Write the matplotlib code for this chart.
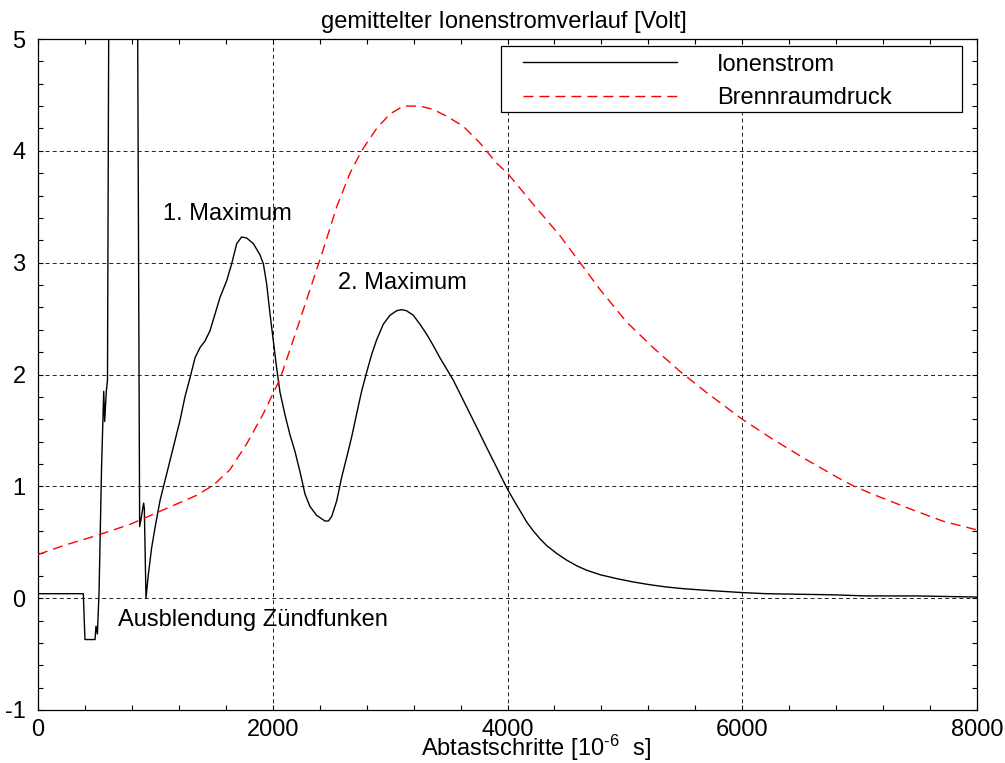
import matplotlib
matplotlib.use("Agg")
import matplotlib.pyplot as plt
from matplotlib.ticker import MultipleLocator
from matplotlib.patches import Rectangle

plt.rcParams['font.family'] = ['Liberation Sans', 'DejaVu Sans']
plt.rcParams['axes.unicode_minus'] = False
plt.rcParams['mathtext.fontset'] = 'custom'
plt.rcParams['mathtext.rm'] = 'Liberation Sans'
plt.rcParams['mathtext.it'] = 'Liberation Sans'
plt.rcParams['lines.scale_dashes'] = False

# ---- data ----
ion_x = [0, 386, 400, 486, 494, 506, 520, 542, 560, 568, 582, 592, 612,
         838, 866, 880, 900, 906, 920, 940, 968, 997, 1039, 1096, 1153,
         1210, 1252, 1295, 1338, 1380, 1423, 1465, 1508, 1551, 1608, 1650,
         1693, 1735, 1778, 1835, 1891, 1920, 1948, 1977, 2005, 2033, 2062,
         2104, 2147, 2190, 2232, 2275, 2317, 2374, 2445, 2474, 2502, 2545,
         2587, 2630, 2672, 2715, 2757, 2800, 2843, 2885, 2942, 2999, 3055,
         3098, 3140, 3197, 3254, 3311, 3367, 3424, 3481, 3538, 3609, 3680,
         3751, 3821, 3907, 3992, 4051, 4108, 4164, 4221, 4278, 4334, 4419,
         4504, 4589, 4674, 4788, 4929, 5071, 5213, 5354, 5496, 5694, 6000,
         6204, 6487, 6771, 7054, 7479, 8000]
ion_y = [0.04, 0.04, -0.37, -0.37, -0.25, -0.32, 0.05, 1.19, 1.85, 1.58,
         1.85, 1.95, 8.0, 8.0, 0.64, 0.72, 0.85, 0.80, 0.0, 0.21, 0.45,
         0.63, 0.87, 1.11, 1.35, 1.59, 1.80, 1.97, 2.15, 2.24, 2.30, 2.39,
         2.54, 2.69, 2.84, 2.99, 3.17, 3.23, 3.22, 3.17, 3.07, 2.99, 2.81,
         2.54, 2.30, 2.06, 1.84, 1.64, 1.46, 1.31, 1.13, 0.93, 0.82, 0.74,
         0.69, 0.69, 0.73, 0.87, 1.08, 1.26, 1.44, 1.65, 1.85, 2.02, 2.18,
         2.31, 2.45, 2.53, 2.57, 2.58, 2.57, 2.53, 2.45, 2.36, 2.26, 2.15,
         2.05, 1.95, 1.80, 1.65, 1.50, 1.35, 1.17, 0.99, 0.88, 0.78, 0.68,
         0.60, 0.53, 0.47, 0.40, 0.34, 0.29, 0.25, 0.21, 0.175, 0.145, 0.12,
         0.10, 0.085, 0.07, 0.05, 0.04, 0.035, 0.03, 0.02, 0.02, 0.01]

druck_x = [0, 216, 500, 784, 1068, 1352, 1494, 1636, 1778, 1920, 2062, 2204,
           2346, 2425, 2545, 2658, 2757, 2885, 2999, 3112, 3254, 3367, 3481,
           3623, 3765, 3907, 4000, 4221, 4448, 4618, 4788, 5014, 5241, 5467,
           5694, 6000, 6261, 6544, 6827, 6955, 7110, 7451, 7706, 8000]
druck_y = [0.39, 0.47, 0.56, 0.66, 0.79, 0.92, 1.01, 1.15, 1.38, 1.65, 1.96,
           2.40, 2.85, 3.10, 3.50, 3.80, 4.00, 4.20, 4.33, 4.40, 4.40, 4.37,
           4.31, 4.22, 4.07, 3.89, 3.80, 3.52, 3.24, 3.00, 2.76, 2.47, 2.24,
           2.03, 1.84, 1.60, 1.42, 1.24, 1.07, 1.00, 0.93, 0.79, 0.69, 0.61]

series_labels = ["Ionenstrom", "Brennraumdruck"]
title = "gemittelter Ionenstromverlauf [Volt]"
xlabel = "Abtastschritte [10$^{\\mathregular{\u20106}}$  s]"
annotations = [("1. Maximum", 1062, 3.38),
               ("2. Maximum", 2553, 2.765),
               ("Ausblendung Zündfunken", 682, -0.249)]

FS = 17

fig = plt.figure(figsize=(10.05, 7.63), dpi=100)
ax = fig.add_axes([38/1005, 1-710/763, 939/1005, 671/763])

ax.plot(ion_x, ion_y, color='black', lw=1.0, zorder=3)
ax.plot(druck_x, druck_y, color='red', lw=1.0, dashes=(7.2, 4.3), zorder=3)

ax.set_xlim(0, 8000)
ax.set_ylim(-1, 5)
ax.xaxis.set_major_locator(MultipleLocator(2000))
ax.xaxis.set_minor_locator(MultipleLocator(400))
ax.yaxis.set_major_locator(MultipleLocator(1))
ax.yaxis.set_minor_locator(MultipleLocator(0.2))
ax.tick_params(which='both', direction='in', top=True, right=True,
               length=3.6, width=0.8, labelsize=FS)
ax.tick_params(axis='x', pad=6.5)
ax.tick_params(axis='y', pad=9)
ax.grid(True, which='major', color='black', lw=0.6, dashes=(2.9, 2.2))
for s in ax.spines.values():
    s.set_linewidth(0.9)

for txt, x, y in annotations:
    ax.text(x, y, txt, fontsize=FS, ha='left', va='baseline', zorder=4)

fig.text(503.5/1005, 1-28.3/763, title, fontsize=FS, ha='center', va='baseline')
fig.text(421/1005, 1-756/763, xlabel, fontsize=FS, ha='left', va='baseline')

# legend box
ax.add_patch(Rectangle((0.4931, 0.8912), 0.984-0.4931, 0.9896-0.8912,
                       transform=ax.transAxes, facecolor='white',
                       edgecolor='black', lw=0.9, zorder=5))
ax.plot([0.5168, 0.6808], [0.9653, 0.9653], transform=ax.transAxes,
        color='black', lw=1.0, zorder=6)
ax.plot([0.5168, 0.6808], [0.9155, 0.9155], transform=ax.transAxes,
        color='red', lw=1.0, dashes=(7.2, 4.3), zorder=6)
ax.text(0.7228, 0.9528, series_labels[0], transform=ax.transAxes,
        fontsize=FS, va='baseline', ha='left', zorder=6)
ax.text(0.7228, 0.9031, series_labels[1], transform=ax.transAxes,
        fontsize=FS, va='baseline', ha='left', zorder=6)

fig.savefig("out.png", dpi=100)
